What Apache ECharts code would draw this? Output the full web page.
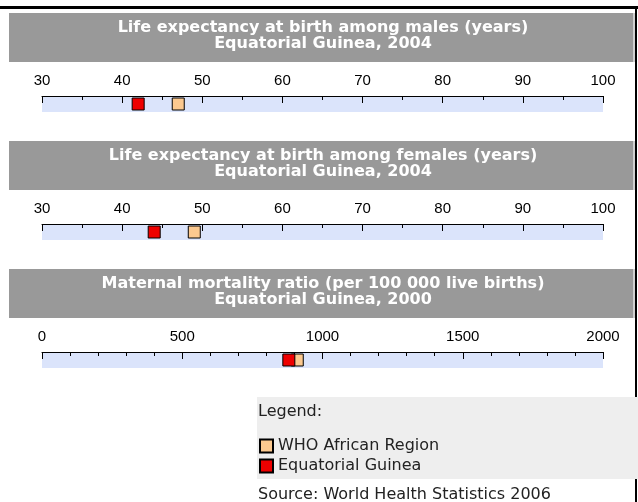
<!DOCTYPE html>
<html>
<head>
<meta charset="utf-8">
<script src="https://cdn.jsdelivr.net/npm/echarts@6/dist/echarts.min.js"></script>
<style>
  html, body { margin: 0; padding: 0; background: #fff; }
  #main { width: 638px; height: 502px; }
</style>
</head>
<body>
<div id="main"></div>
<script>
// series names (legend order)
var categories = ["WHO African Region", "Equatorial Guinea"];
var seriesColors = ["#fcc98f", "#ee0000"];

// values per panel: [WHO African Region, Equatorial Guinea]
var maleLife = [47, 42];
var femaleLife = [49, 44];
var maternalMortality = [910, 880];

var panelTitles = [
  "Life expectancy at birth among males (years)\nEquatorial Guinea, 2004",
  "Life expectancy at birth among females (years)\nEquatorial Guinea, 2004",
  "Maternal mortality ratio (per 100 000 live births)\nEquatorial Guinea, 2000"
];
// axis scale: min, max, label interval, minor splits
var axisMin = [30, 30, 0];
var axisMax = [100, 100, 2000];
var axisStep = [10, 10, 500];
var minorSplit = [2, 2, 5];

var panelValues = [maleLife, femaleLife, maternalMortality];
var headerTop = [13, 141, 269];
var bandTop = [96, 224, 352];

var grids = [], xAxes = [], yAxes = [], series = [], graphics = [];

// frame
graphics.push({ type: "rect", shape: { x: 0, y: 6, width: 638, height: 3 }, style: { fill: "#000" }, z: 1 });
graphics.push({ type: "rect", shape: { x: 635, y: 6, width: 2, height: 496 }, style: { fill: "#000" }, z: 1 });

for (var i = 0; i < 3; i++) {
  grids.push({
    left: 42, width: 561, top: bandTop[i], height: 16,
    show: true, backgroundColor: "#dbe4fb", borderWidth: 0
  });
  xAxes.push({
    gridIndex: i, type: "value", position: "top",
    min: axisMin[i], max: axisMax[i], interval: axisStep[i],
    axisLine: { show: true, onZero: false, lineStyle: { color: "#000", width: 1 } },
    axisTick: { show: true, inside: true, length: 7, lineStyle: { color: "#000" } },
    minorTick: { show: true, splitNumber: minorSplit[i], length: 4, lineStyle: { color: "#000" } },
    axisLabel: {
      margin: 8, color: "#000", fontFamily: "Liberation Sans", fontSize: 15,
      formatter: function (v) { return String(v); }
    },
    splitLine: { show: false }
  });
  yAxes.push({ gridIndex: i, type: "value", min: 0, max: 1, show: false });

  for (var k = 0; k < categories.length; k++) {
    series.push({
      name: categories[k], type: "scatter",
      xAxisIndex: i, yAxisIndex: i,
      symbol: "rect", symbolSize: 12,
      itemStyle: { color: seriesColors[k], borderColor: "#000", borderWidth: 1, opacity: 1 },
      z: 3 + k,
      silent: true,
      data: [[panelValues[i][k], 0.5]]
    });
  }

  // header
  graphics.push({
    type: "rect", shape: { x: 9, y: headerTop[i], width: 624, height: 49 },
    style: { fill: "#999999" }, z: 1
  });
  graphics.push({
    type: "rect", shape: { x: 633, y: headerTop[i], width: 2, height: 49 },
    style: { fill: "#d0d0d0" }, z: 1
  });
  graphics.push({
    type: "text", x: 323, y: headerTop[i] + 23, z: 2,
    style: {
      text: panelTitles[i], fill: "#fff",
      font: "bold 16px 'DejaVu Sans'", lineHeight: 16,
      align: "center", verticalAlign: "middle"
    }
  });
}

// legend box
graphics.push({ type: "rect", shape: { x: 257, y: 397, width: 381, height: 82 }, style: { fill: "#eeeeee" }, z: 5 });
graphics.push({
  type: "text", x: 258, y: 412, z: 6,
  style: { text: "Legend:", fill: "#222", font: "16px 'DejaVu Sans'", verticalAlign: "middle" }
});
graphics.push({
  type: "text", x: 258, y: 495, z: 6,
  style: { text: "Source: World Health Statistics 2006", fill: "#222", font: "16px 'DejaVu Sans'", verticalAlign: "middle" }
});

var chart = echarts.init(document.getElementById("main"), null, { renderer: "canvas" });
chart.setOption({
  animation: false,
  backgroundColor: "#fff",
  grid: grids,
  xAxis: xAxes,
  yAxis: yAxes,
  legend: {
    data: categories,
    orient: "vertical",
    left: 259, top: 437,
    itemWidth: 13, itemHeight: 13, itemGap: 2,
    padding: 0,
    icon: "rect",
    z: 10,
    selectedMode: false,
    textStyle: { color: "#222", fontFamily: "DejaVu Sans", fontSize: 16, lineHeight: 18 }
  },
  graphic: graphics,
  series: series
});
</script>
</body>
</html>
